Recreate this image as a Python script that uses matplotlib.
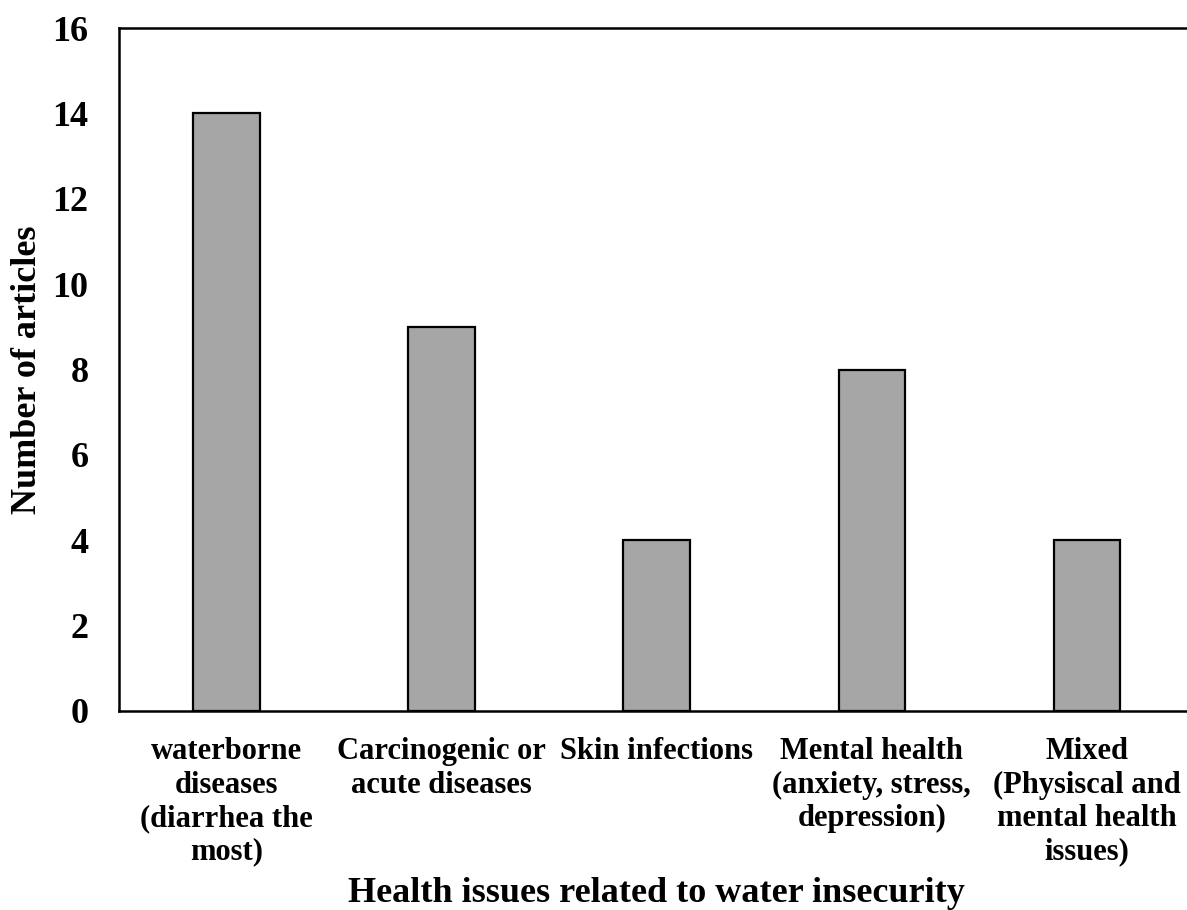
import matplotlib.pyplot as plt

categories = [
    "waterborne\ndiseases\n(diarrhea the\nmost)",
    "Carcinogenic or\nacute diseases",
    "Skin infections",
    "Mental health\n(anxiety, stress,\ndepression)",
    "Mixed\n(Physiscal and\nmental health\nissues)",
]
articles = [14, 9, 4, 8, 4]
y_ticks = [0, 2, 4, 6, 8, 10, 12, 14, 16]

plt.rcParams['font.family'] = ['Liberation Serif', 'DejaVu Serif']
plt.rcParams['font.weight'] = 'bold'

fig = plt.figure(figsize=(11.87, 9.1), dpi=100)
ax = fig.add_axes([0.1003, 0.2187, 0.906, 0.7505])

x = range(len(categories))
ax.bar(x, articles, width=0.31, color='#A6A6A6', edgecolor='black', linewidth=1.6)

ax.set_xlim(-0.5, len(categories) - 0.5)
ax.set_ylim(0, 16)
ax.set_yticks(y_ticks)
ax.set_yticklabels([str(t) for t in y_ticks], fontsize=26, fontweight='bold')
ax.set_xticks(list(x))
ax.set_xticklabels(categories, fontsize=22, fontweight='bold', linespacing=1.2, va='top')
ax.tick_params(axis='both', length=0)
ax.tick_params(axis='x', pad=19)
ax.tick_params(axis='y', pad=22)

for side in ['left', 'top', 'bottom']:
    ax.spines[side].set_linewidth(1.8)
ax.spines['right'].set_visible(False)

ax.set_ylabel("Number of articles", fontsize=26, fontweight='bold')
ax.yaxis.set_label_coords(-0.07, 0.5)
fig.text(0.5527, 0.0085, "Health issues related to water insecurity",
         fontsize=26, fontweight='bold', ha='center', va='baseline')

fig.savefig('out.png', dpi=100)
